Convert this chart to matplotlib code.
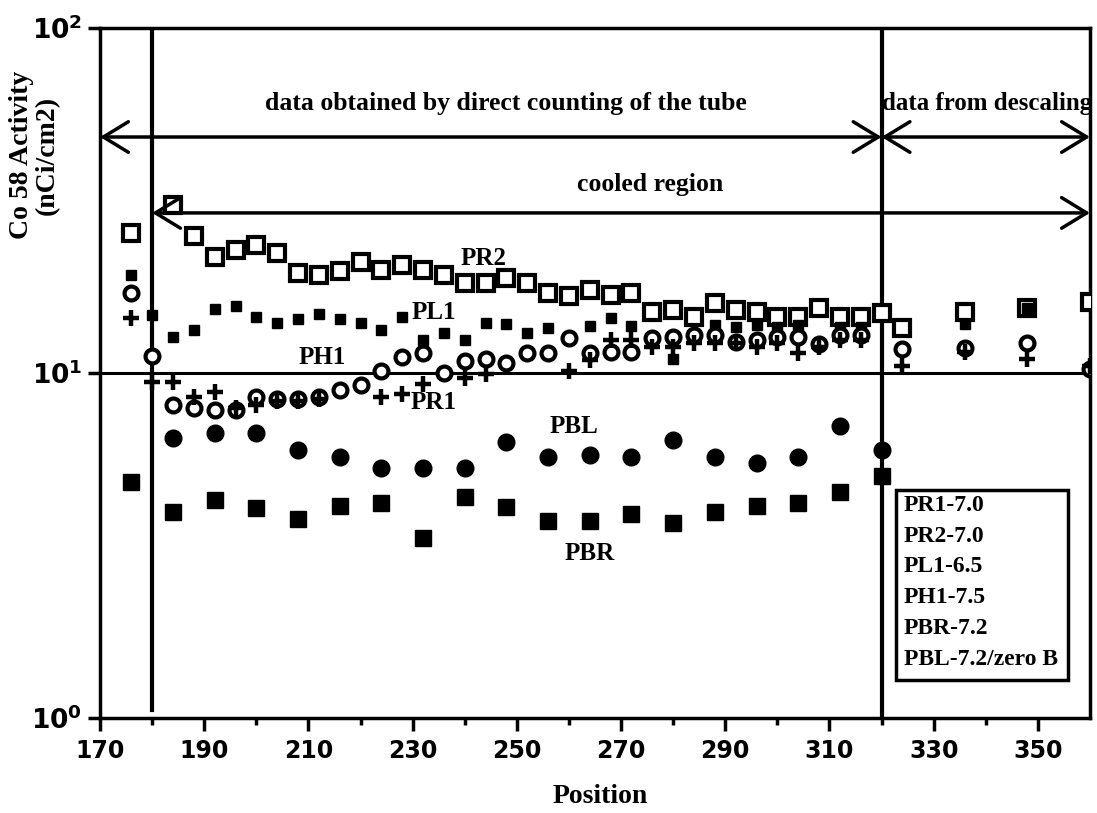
import matplotlib
matplotlib.use('Agg')
import matplotlib.pyplot as plt
from matplotlib.patches import Rectangle
from matplotlib.ticker import FixedLocator, NullLocator

# ------------------------------------------------------------
# DATA
# ------------------------------------------------------------

pr2_x = [176, 184, 188, 192, 196, 200, 204, 208, 212, 216, 220, 224, 228, 232,
         236, 240, 244, 248, 252, 256, 260, 264, 268, 272, 276, 280, 284, 288,
         292, 296, 300, 304, 308, 312, 316, 320, 324, 336, 348, 360]
pr2_y = [25.4, 30.7, 25.0, 21.7, 22.7, 23.5, 22.3, 19.5, 19.2, 19.8, 21.0, 19.9,
         20.6, 19.9, 19.2, 18.2, 18.2, 18.8, 18.2, 17.1, 16.7, 17.4, 16.8, 17.1,
         15.0, 15.2, 14.5, 16.0, 15.2, 15.0, 14.5, 14.5, 15.4, 14.5, 14.5, 14.9,
         13.5, 15.0, 15.4, 16.1]

pl1_x = [176, 180, 184, 188, 192, 196, 200, 204, 208, 212, 216, 220, 224, 228,
         232, 236, 240, 244, 248, 252, 256, 264, 268, 272, 280, 288, 292, 296,
         300, 304, 312, 316, 336, 348]
pl1_y = [19.2, 14.7, 12.7, 13.3, 15.3, 15.6, 14.5, 14.0, 14.3, 14.8, 14.3, 14.0,
         13.3, 14.5, 12.5, 13.1, 12.5, 14.0, 13.9, 13.1, 13.5, 13.7, 14.4, 13.7,
         11.0, 13.8, 13.6, 13.8, 13.6, 13.8, 13.6, 13.6, 13.9, 15.4]

ph1_x = [176, 180, 184, 188, 192, 196, 200, 204, 208, 212, 216, 220, 224, 228,
         232, 236, 240, 244, 248, 252, 256, 260, 264, 268, 272, 276, 280, 284,
         288, 292, 296, 300, 304, 308, 312, 316, 324, 336, 348, 360]
ph1_y = [17.1, 11.2, 8.1, 7.9, 7.8, 7.8, 8.5, 8.4, 8.4, 8.5, 8.9, 9.2, 10.1, 11.1,
         11.4, 10.0, 10.8, 11.0, 10.7, 11.4, 11.4, 12.6, 11.4, 11.5, 11.5, 12.6,
         12.7, 12.9, 12.9, 12.3, 12.5, 12.7, 12.7, 12.1, 12.9, 12.9, 11.7, 11.8,
         12.2, 10.3]

pr1_x = [176, 180, 184, 188, 192, 196, 200, 204, 208, 212, 224, 228, 232, 240,
         244, 260, 264, 268, 272, 276, 280, 284, 288, 292, 296, 300, 304, 308,
         312, 316, 324, 336, 348, 360]
pr1_y = [14.4, 9.4, 9.4, 8.5, 8.8, 7.9, 8.1, 8.3, 8.3, 8.4, 8.5, 8.7, 9.3, 9.7,
         9.9, 10.1, 10.9, 12.5, 12.5, 11.9, 11.9, 12.2, 12.2, 12.2, 11.9, 12.2,
         11.4, 11.9, 12.5, 12.5, 10.5, 11.5, 11.0, 10.5]

pbl_x = [184, 192, 200, 208, 216, 224, 232, 240, 248, 256, 264, 272, 280, 288,
         296, 304, 312, 320]
pbl_y = [6.5, 6.7, 6.7, 6.0, 5.7, 5.3, 5.3, 5.3, 6.3, 5.7, 5.8, 5.7, 6.4, 5.7,
         5.5, 5.7, 7.0, 6.0]

pbr_x = [176, 184, 192, 200, 208, 216, 224, 232, 240, 248, 256, 264, 272, 280,
         288, 296, 304, 312, 320]
pbr_y = [4.83, 3.96, 4.28, 4.06, 3.78, 4.12, 4.20, 3.32, 4.37, 4.09, 3.72, 3.72,
         3.90, 3.67, 3.96, 4.12, 4.20, 4.52, 5.03]

x_ticks = [170, 190, 210, 230, 250, 270, 290, 310, 330, 350]
x_minor = [180, 200, 220, 240, 260, 280, 300, 320, 340]
y_ticks = [1, 10, 100]
y_labels = [r'$\mathbf{10^{0}}$', r'$\mathbf{10^{1}}$', r'$\mathbf{10^{2}}$']

legend_labels = ['PR1-7.0', 'PR2-7.0', 'PL1-6.5', 'PH1-7.5', 'PBR-7.2',
                 'PBL-7.2/zero B']

SERIF = ['Liberation Serif', 'DejaVu Serif']

# ------------------------------------------------------------
# PLOT
# ------------------------------------------------------------

fig = plt.figure(figsize=(10.97, 8.13), dpi=100, facecolor='white')
ax = fig.add_axes([0.0912, 0.1169, 0.9024, 0.8487])

ax.set_yscale('log')
ax.set_xlim(170, 360)
ax.set_ylim(1, 100)

# reference lines
ax.axhline(10, color='black', lw=2.2, zorder=1)
ax.axvline(180, ymin=0.012, ymax=1, color='black', lw=3, zorder=1)
ax.axvline(320, color='black', lw=3, zorder=1)

# series
ax.plot(pr2_x, pr2_y, 's', ms=11, mfc='white', mec='black', mew=3, zorder=3)
ax.plot(pl1_x, pl1_y, 's', ms=7.5, mfc='black', mec='black', zorder=3)
ax.plot(ph1_x, ph1_y, 'o', ms=10, mfc='white', mec='black', mew=3, zorder=3)
ax.plot(pr1_x, pr1_y, '+', ms=11, mec='black', mew=3.2, zorder=3)
ax.plot(pbl_x, pbl_y, 'o', ms=12, mfc='black', mec='black', zorder=3)
ax.plot(pbr_x, pbr_y, 's', ms=11.5, mfc='black', mec='black', zorder=3)

# series labels
label_kw = dict(family=SERIF, fontweight='bold', fontsize=18,
                ha='center', va='center', zorder=4)
ax.text(243.6, 21.5, 'PR2', **label_kw)
ax.text(234, 15.0, 'PL1', **label_kw)
ax.text(212.6, 11.1, 'PH1', **label_kw)
ax.text(234, 8.2, 'PR1', **label_kw)
ax.text(261, 7.0, 'PBL', **label_kw)
ax.text(264, 3.0, 'PBR', **label_kw)

# region arrows and captions
arrow_kw = dict(arrowstyle='<->,head_length=1.8,head_width=1.1',
                lw=2.5, color='black', shrinkA=0, shrinkB=0)
ax.annotate('', xy=(170, 48.3), xytext=(320, 48.3), arrowprops=arrow_kw)
ax.annotate('', xy=(320, 48.3), xytext=(360, 48.3), arrowprops=arrow_kw)
ax.annotate('', xy=(180, 29.1), xytext=(360, 29.1), arrowprops=arrow_kw)

cap_kw = dict(family=SERIF, fontweight='bold', fontsize=18.5,
              ha='center', va='center')
ax.text(247.8, 60.6, 'data obtained by direct counting of the tube', **cap_kw)
ax.text(340.3, 60.6, 'data from descaling', fontsize=18, family=SERIF,
        fontweight='bold', ha='center', va='center')
ax.text(275.5, 35.1, 'cooled region', **cap_kw)

# axes styling
for spine in ax.spines.values():
    spine.set_linewidth(2.5)

ax.xaxis.set_major_locator(FixedLocator(x_ticks))
ax.xaxis.set_minor_locator(FixedLocator(x_minor))
ax.yaxis.set_major_locator(FixedLocator(y_ticks))
ax.yaxis.set_minor_locator(NullLocator())
ax.set_yticklabels(y_labels)

ax.tick_params(axis='both', which='major', direction='out', length=9,
               width=2.5, labelsize=17, pad=6)
ax.tick_params(axis='x', which='minor', direction='out', length=5, width=2.5)
ax.tick_params(axis='y', which='major', labelsize=19, pad=4)
for lab in ax.get_xticklabels():
    lab.set_fontweight('bold')

fig.text(0.547, 0.020, 'Position', family=SERIF, fontweight='bold',
         fontsize=20, ha='center', va='center')
fig.text(0.031, 0.809, 'Co 58 Activity\n(nCi/cm2)', family=SERIF,
         fontweight='bold', fontsize=20, ha='center', va='center',
         rotation=90, linespacing=1.05)

# legend box
fig.patches.append(Rectangle((0.8168, 0.1636), 0.1568, 0.2337,
                             transform=fig.transFigure, fill=False,
                             lw=2.5, edgecolor='black'))
for i, lab in enumerate(legend_labels):
    fig.text(0.824, 0.3788 - i * 0.0381, lab, family=SERIF,
             fontweight='bold', fontsize=17, ha='left', va='center')

plt.savefig('out.png', dpi=100, facecolor='white')
plt.close()
